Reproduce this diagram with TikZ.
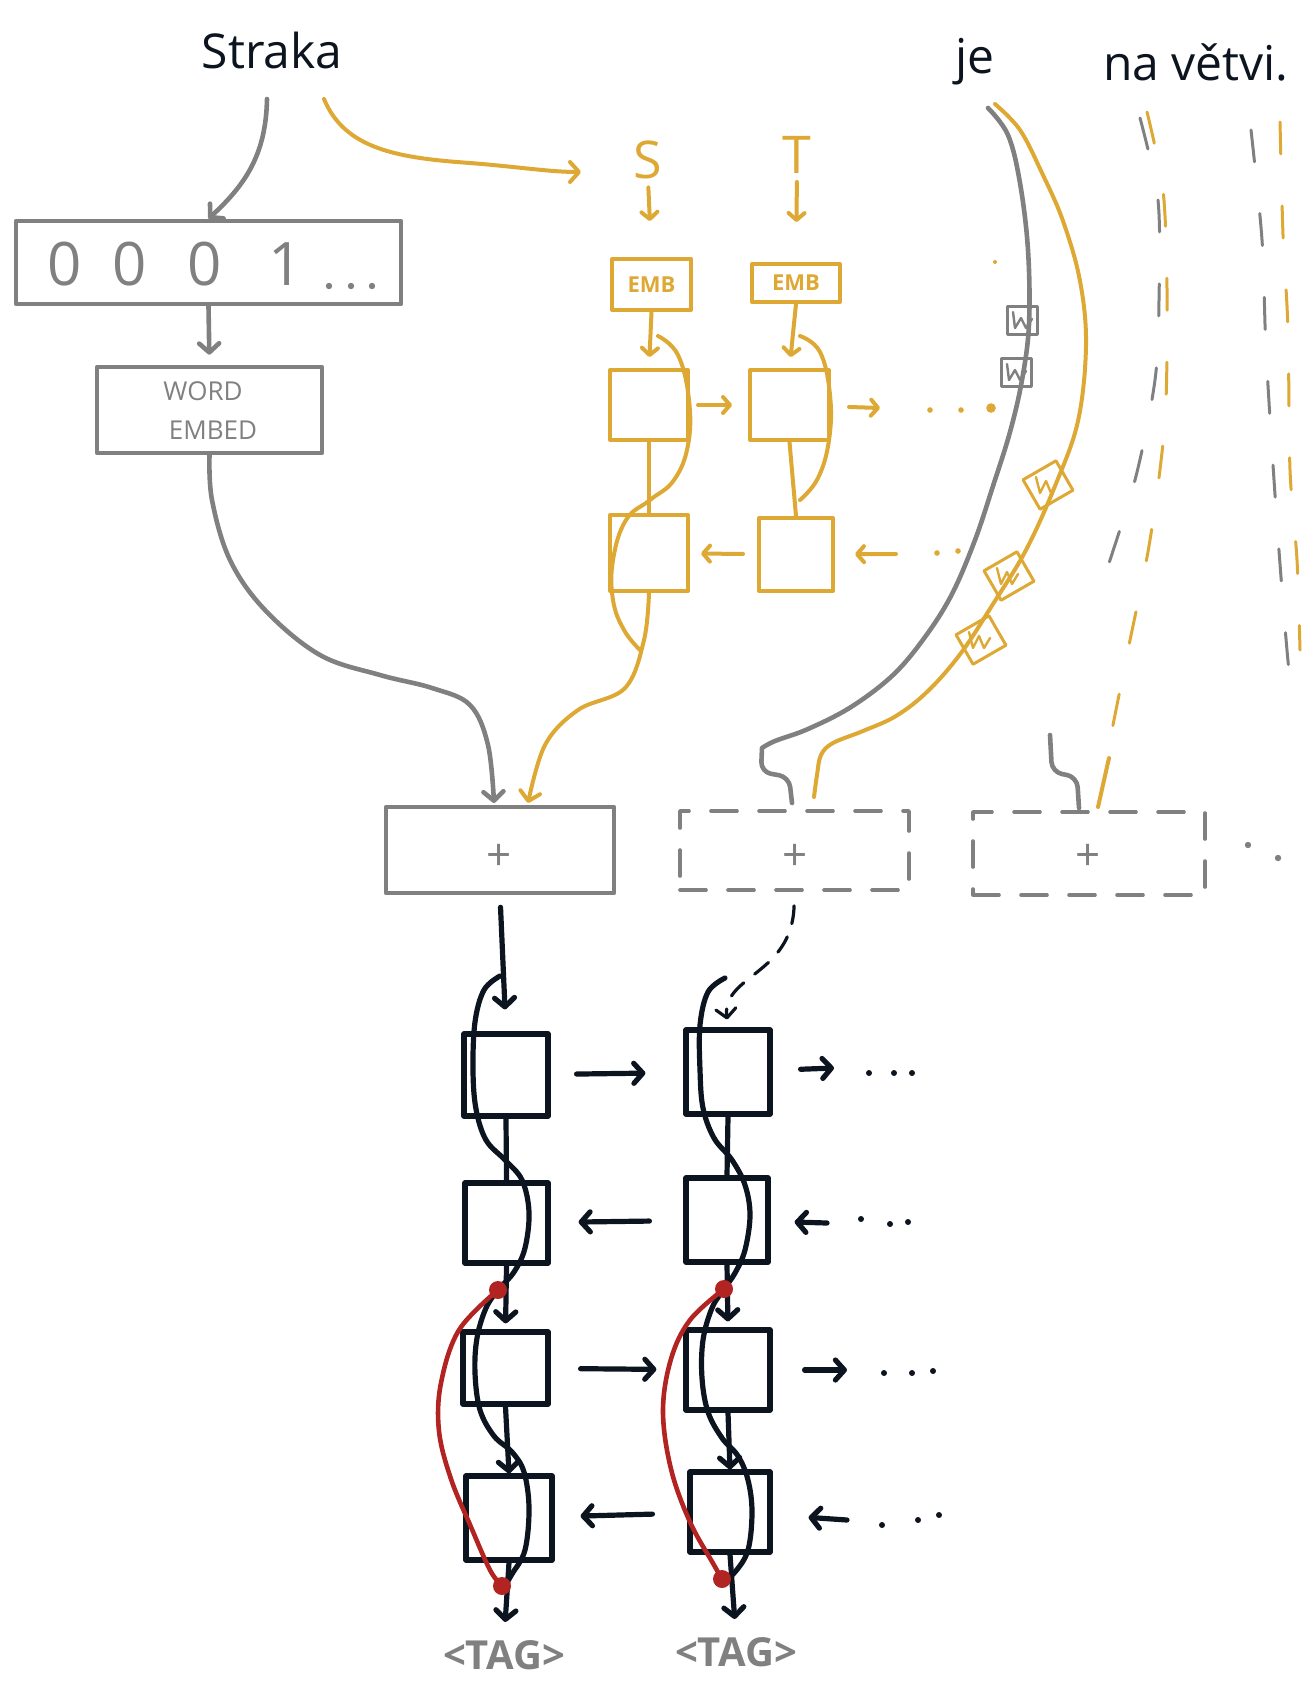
\documentclass[tikz,border=0pt]{standalone}
\usepackage{fontspec}
\setmainfont{Open Sans}
\usetikzlibrary{arrows.meta,fit}
\definecolor{cgrey}{RGB}{128,128,128}
\definecolor{cyel}{RGB}{222,168,52}
\definecolor{cblk}{RGB}{12,20,32}
\definecolor{cred}{RGB}{178,36,34}
\begin{document}
\begin{tikzpicture}[x=0.5pt,y=-0.5pt,
  gline/.style={draw=cgrey,line width=2.3pt,line cap=round,line join=round},
  yline/.style={draw=cyel,line width=2pt,line cap=round,line join=round},
  kline/.style={draw=cblk,line width=2.6pt,line cap=round,line join=round},
  rline/.style={draw=cred,line width=2.3pt,line cap=round,line join=round},
  tip/.style={-{Straight Barb[length=4.5pt,width=10pt,round]}},
  smalltip/.style={-{Straight Barb[length=3.5pt,width=8pt,round]}},
  fitbox/.style={rectangle,inner sep=0pt},
  gbox/.style={gline,fitbox},
  ybox/.style={yline,fitbox},
  kbox/.style={kline,fitbox},
  dbox/.style={gline,fitbox,line width=1.8pt,dash pattern=on 13pt off 11pt},
  dcol/.style={line width=1.5pt,line cap=round,dash pattern=on 16pt off 26pt},
  word/.style={text=cblk,font=\fontsize{24}{28}\selectfont,inner sep=0pt},
  digit/.style={text=cgrey,font=\fontsize{30}{34}\selectfont,inner sep=0pt},
  glab/.style={text=cgrey,font=\fontsize{13}{15}\selectfont,inner sep=0pt},
  ylab/.style={text=cyel,font=\fontsize{26}{30}\selectfont,inner sep=0pt},
  emb/.style={text=cyel,font=\bfseries\fontsize{11}{13}\selectfont,inner sep=0pt},
  plusl/.style={text=cgrey,font=\fontsize{22}{26}\selectfont,inner sep=0pt},
  tagl/.style={text=cgrey,font=\bfseries\fontsize{20}{24}\selectfont,inner sep=0pt}
]
\useasboundingbox (0,0) rectangle (1307,1692);

% ---------- words ----------
\node[word] (straka) at (272,50) {Straka};
\node[word] (je) at (975,62) {je};
\node[word] (navetvi) at (1196,62) {na větvi.};

% ---------- one-hot & word embedding ----------
\node[gbox, fit={(16,221) (401,304)}] (onehot) {};
\node[digit] (d1) at (65,264) {0};
\node[digit] (d2) at (130,264) {0};
\node[digit] (d3) at (205,264) {0};
\node[digit] (d4) at (286,264) {1};
\fill[cgrey] (329,286) circle (1.6pt) (351,286) circle (1.6pt) (372,286) circle (1.6pt);

\node[gbox, fit={(97,367) (322,453)}] (we) {};
\node[glab] (wel1) at (203,391) {WORD};
\node[glab] (wel2) at (213,430) {EMBED};

\coordinate (sa) at (267,99);
\draw[gline,tip] (sa) .. controls (266,155) and (245,185) .. (onehot.north);
\draw[gline,tip,shorten >=5pt] (onehot.south) -- (we.north);

% ---------- yellow character model ----------
\coordinate (sb) at (324,99);
\coordinate (sbe) at (581,172);
\draw[yline,tip] (sb) .. controls (345,150) and (400,158) .. (470,163) .. controls (520,167) and (550,172) .. (sbe);

\node[ylab] (S) at (648,160) {S};
\node[ylab] (T) at (797,155) {T};
\node[ybox, fit={(612,259) (691,310)}] (embS) {};
\node[ybox, fit={(752,264) (840,302)}] (embT) {};
\node[emb] (embSl) at (embS.center) {EMB};
\node[emb] (embTl) at (embT.center) {EMB};
\node[ybox, fit={(610,370) (688,440)}] (s1) {};
\node[ybox, fit={(610,515) (688,591)}] (s2) {};
\node[ybox, fit={(750,370) (829,440)}] (t1) {};
\node[ybox, fit={(759,518) (833,591)}] (t2) {};

\draw[yline,smalltip,shorten <=4pt,shorten >=18pt] (S.south) -- (embS.north);
\draw[yline,smalltip,shorten <=4pt,shorten >=20pt] (T.south) -- (embT.north);
\draw[yline,smalltip,shorten >=5.5pt] (embS.south) -- (s1.north);
\draw[yline,smalltip,shorten >=5.5pt] (embT.south) -- (t1.north);
\draw[yline] (s1.south) -- (s2.north);
\draw[yline] (t1.south) -- (t2.north);
\draw[yline] plot[smooth,tension=0.7] coordinates {(658,336) (678,355) (689,400) (688,445) (674,480) (650,500) (626,520) (613,560) (613,600) (624,630) (640,650)};
\draw[yline] plot[smooth,tension=0.7] coordinates {(800,336) (820,352) (830,395) (829,440) (818,478) (800,500)};
\draw[yline,smalltip,shorten <=4pt,shorten >=8pt] (s1) -- (t1);
\coordinate (t1o) at (880,408);
\draw[yline,smalltip,shorten <=9pt] (t1) -- (t1o);
\fill[cyel] (930,410) circle (1.4pt) (961,410) circle (1.4pt) (991,408) circle (2.4pt) (995,262) circle (1pt);
\draw[yline,smalltip,shorten <=7pt,shorten >=5.5pt] (t2) -- (s2);
\coordinate (t2i) at (896,554);
\draw[yline,smalltip,shorten >=10pt] (t2i) -- (t2);
\fill[cyel] (937,553) circle (1.4pt) (958,551) circle (1.4pt);

% ---------- sum boxes ----------
\node[gbox, fit={(386,807) (614,893)}] (plus) {};
\node[plusl] (plusl1) at (499,857) {+};
\node[dbox, fit={(680,811) (909,890)}] (dplus1) {};
\node[plusl] (plusl2) at (795,857) {+};
\node[dbox, fit={(973,812) (1205,895)}] (dplus2) {};
\node[plusl] (plusl3) at (1088,857) {+};
\fill[cgrey] (1248,845) circle (1.6pt) (1278,858) circle (1.6pt);

\draw[gline,tip] plot[smooth,tension=0.6] coordinates {(we.south) (212,500) (230,560) (265,610) (320,655) (380,675) (432,688) (470,705) (488,745) (494,803)};
\draw[yline,tip] plot[smooth,tension=0.6] coordinates {(s2.south) (644,640) (625,688) (578,710) (545,745) (528,803)};

% ---------- word "je" models ----------
\coordinate (jeg) at (988,108);
\coordinate (jey) at (995,104);
\draw[gline] plot[smooth,tension=0.6] coordinates {(jeg) (1008,135) (1020,183) (1028,250) (1029,324) (1022,380) (1010,432) (993,486) (975,540) (952,594) (925,637) (893,675) (851,707) (808,729) (775,741) (762,748)} [rounded corners=5pt] -- (761,772) -- (789,777) -- (792,803);
\draw[yline] plot[smooth,tension=0.6] coordinates {(jey) (1020,130) (1042,173) (1063,221) (1080,281) (1086,345) (1078,421) (1055,486) (1026,550) (993,604) (961,653) (928,691) (896,716) (863,731) (833,743) (821,755) (817,775) (814,797)};

% grey scribbles
\node[gbox,line width=1.5pt,minimum width=15pt,minimum height=14pt] (gsc1) at (1022,320) {};
\node[gbox,line width=1.5pt,minimum width=15pt,minimum height=14pt] (gsc2) at (1016,372) {};
\draw[gline,line width=1.2pt] (gsc1.center) ++(-9,-8) -- ++(2,16) -- ++(6,-10) -- ++(5,10) -- ++(6,-9);
\draw[gline,line width=1.2pt] (gsc2.center) ++(-9,-8) -- ++(2,16) -- ++(6,-10) -- ++(5,10) -- ++(6,-9);
% yellow scribbles
\node[ybox,line width=1.5pt,minimum width=19pt,minimum height=17pt,rotate=30] (ysc1) at (1048,485) {};
\node[ybox,line width=1.5pt,minimum width=19pt,minimum height=17pt,rotate=30] (ysc2) at (1009,576) {};
\node[ybox,line width=1.5pt,minimum width=19pt,minimum height=17pt,rotate=30] (ysc3) at (981,640) {};
\draw[yline,line width=1.2pt] (ysc1.center) ++(-12,-8) -- ++(4,16) -- ++(6,-12) -- ++(5,12) -- ++(6,-10);
\draw[yline,line width=1.2pt] (ysc2.center) ++(-12,-8) -- ++(4,16) -- ++(6,-12) -- ++(5,12) -- ++(6,-10);
\draw[yline,line width=1.2pt] (ysc3.center) ++(-12,-8) -- ++(4,16) -- ++(6,-12) -- ++(5,12) -- ++(6,-10);

% ---------- fading word columns ----------
\draw[gline,dcol] plot[smooth] coordinates {(1140,118) (1158,200) (1159,300) (1155,380) (1135,480) (1100,590)};
\draw[yline,dcol] plot[smooth] coordinates {(1147,112) (1163,190) (1167,290) (1165,420) (1150,540) (1128,650) (1110,740)};
\coordinate (ga) at (1050,735);
\coordinate (ya) at (1109,758);
\draw[gline] (ga) [rounded corners=5pt] -- (1052,772) -- (1077,777) -- (1079,808);
\draw[yline] (ya) -- (1098,807);
\draw[gline,dcol] plot[smooth] coordinates {(1251,130) (1262,240) (1266,350) (1274,480) (1282,590) (1290,680) (1298,715)};
\draw[yline,dcol] plot[smooth] coordinates {(1280,122) (1283,235) (1288,330) (1290,470) (1297,560) (1300,650)};

% ---------- tagger BiLSTM layers ----------
\node[kbox, fit={(464,1034) (548,1116)}] (c1b1) {};
\node[kbox, fit={(465,1183) (548,1263)}] (c1b2) {};
\node[kbox, fit={(463,1332) (548,1404)}] (c1b3) {};
\node[kbox, fit={(466,1476) (552,1560)}] (c1b4) {};
\node[kbox, fit={(686,1030) (770,1114)}] (c2b1) {};
\node[kbox, fit={(686,1178) (768,1262)}] (c2b2) {};
\node[kbox, fit={(686,1330) (770,1410)}] (c2b3) {};
\node[kbox, fit={(690,1472) (770,1552)}] (c2b4) {};

\node[tagl] (tag1) at (504,1655) {<TAG>};
\node[tagl] (tag2) at (736,1652) {<TAG>};

\draw[kline,tip,shorten <=6pt,shorten >=11pt] (plus.south) -- (c1b1.north);
\draw[kline,line width=1.6pt,dash pattern=on 9pt off 7pt,tip,shorten <=7pt,shorten >=4pt] (dplus1.south) .. controls (792,975) and (722,975) .. (c2b1.north);

% snakes
\draw[kline] plot[smooth,tension=0.6] coordinates {(500,976) (484,990) (475,1022) (473,1070) (476,1109) (486,1140) (505,1160) (522,1180) (529,1212) (525,1248) (514,1272) (498,1290) (486,1308) (477,1338) (475,1373) (480,1410) (494,1436) (512,1452) (524,1472) (529,1508) (525,1550) (512,1574) (504,1587)};
\draw[kline] plot[smooth,tension=0.6] coordinates {(725,978) (708,992) (700,1025) (700,1070) (703,1108) (714,1138) (732,1160) (745,1185) (750,1215) (745,1250) (735,1273) (724,1289) (712,1308) (703,1340) (702,1378) (708,1412) (722,1438) (738,1456) (748,1480) (752,1512) (748,1550) (735,1572) (722,1582)};

% vertical links
\draw[kline] (c1b1.south) -- (c1b2.north);
\draw[kline,tip,shorten >=3pt] (c1b2.south) -- (c1b3.north);
\draw[kline,tip] (c1b3.south) -- (c1b4.north);
\draw[kline,tip,shorten >=9pt] (c1b4.south) -- (tag1.north);
\draw[kline] (c2b1.south) -- (c2b2.north);
\draw[kline,tip,shorten >=3pt] (c2b2.south) -- (c2b3.north);
\draw[kline,tip] (c2b3.south) -- (c2b4.north);
\draw[kline,tip,shorten >=9pt] (c2b4.south) -- (tag2.north);

% horizontal links
\draw[kline,tip,shorten <=13pt,shorten >=19pt] (c1b1) -- (c2b1);
\coordinate (o1) at (834,1068);
\draw[kline,tip,shorten <=14pt] (c2b1) -- (o1);
\fill[cblk] (869,1073) circle (1.5pt) (894,1073) circle (1.5pt) (912,1073) circle (1.5pt);
\draw[kline,tip,shorten <=17pt,shorten >=14pt] (c2b2) -- (c1b2);
\coordinate (i2) at (827,1223);
\draw[kline,tip,shorten >=12pt] (i2) -- (c2b2);
\fill[cblk] (861,1219) circle (1.5pt) (890,1224) circle (1.5pt) (908,1222) circle (1.5pt);
\draw[kline,tip,shorten <=15pt,shorten >=13.5pt] (c1b3) -- (c2b3);
\coordinate (o3) at (847,1370);
\draw[kline,tip,shorten <=16pt] (c2b3) -- (o3);
\fill[cblk] (884,1373) circle (1.5pt) (912,1373) circle (1.5pt) (933,1371) circle (1.5pt);
\draw[kline,tip,shorten <=17.5pt,shorten >=13pt] (c2b4) -- (c1b4);
\coordinate (i4) at (847,1520);
\draw[kline,tip,shorten >=18pt] (i4) -- (c2b4);
\fill[cblk] (882,1525) circle (1.5pt) (918,1520) circle (1.5pt) (939,1515) circle (1.5pt);

% residual (red) connections
\coordinate (r1a) at (498,1290);
\coordinate (r1b) at (502,1586);
\coordinate (r2a) at (724,1289);
\coordinate (r2b) at (722,1579);
\draw[rline] plot[smooth,tension=0.6] coordinates {(r1a) (459,1330) (441,1383) (439,1431) (451,1479) (471,1527) (490,1570) (r1b)};
\draw[rline] plot[smooth,tension=0.6] coordinates {(r2a) (690,1320) (671,1359) (663,1411) (671,1469) (690,1522) (714,1565) (r2b)};
\fill[cred] (r1a) circle (4.5pt) (r1b) circle (4.5pt) (r2a) circle (4.5pt) (r2b) circle (4.5pt);
\end{tikzpicture}
\end{document}
